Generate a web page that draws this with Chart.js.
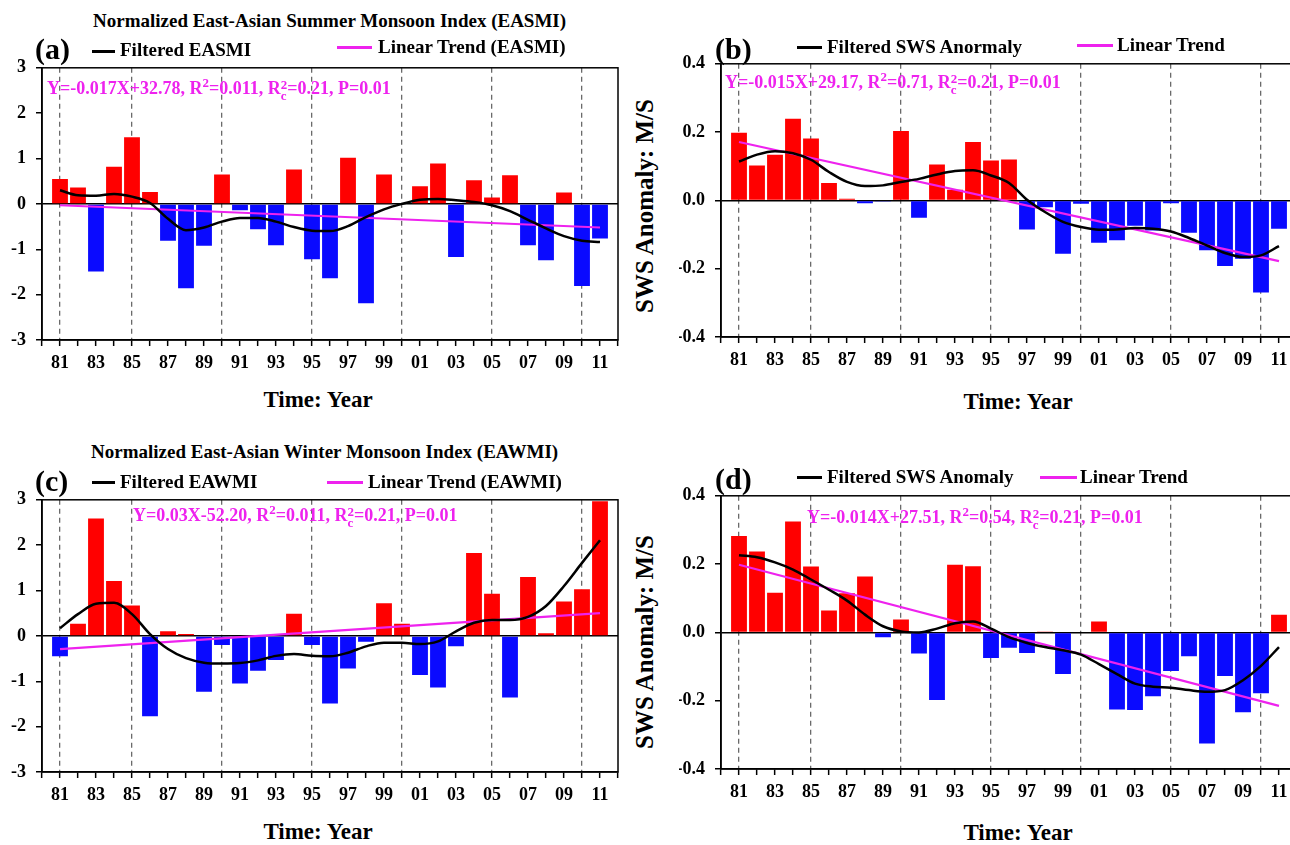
<!DOCTYPE html>
<html>
<head>
<meta charset="utf-8">
<script src="https://cdn.jsdelivr.net/npm/chart.js@4"></script>
<style>
  html, body { margin: 0; padding: 0; background: #fff; }
  body { width: 1290px; height: 845px; overflow: hidden; position: relative;
         font-family: "Liberation Serif", "Times New Roman", serif; font-weight: bold; color: #000; }
  canvas { position: absolute; }
  .t { position: absolute; white-space: nowrap; line-height: 24px; height: 24px; z-index: 2; }
  .title { font-size: 19px; }
  .lab { font-size: 30px; }
  .leg { font-size: 19px; }
  .eq { font-size: 18px; color: #ee22ee; }
  .eq sup { font-size: 0.72em; vertical-align: 0.55em; line-height: 0; }
  .cs { display: inline-block; vertical-align: -0.45em; font-size: 0.72em; line-height: 0.85em; }
  .cs span { display: block; }
  .xt { font-size: 23px; transform: translateX(-50%); }
  .yt { font-size: 25px; transform: translate(-50%, -50%) rotate(-90deg); line-height: 26px; height: 26px; }
  .ln { position: absolute; height: 0; z-index: 2; }
</style>
</head>
<body>

<canvas id="ca" width="630" height="333" style="left:0px;top:47px"></canvas>
<canvas id="cb" width="630" height="334" style="left:679px;top:43px"></canvas>
<canvas id="cc" width="630" height="333" style="left:0px;top:479px"></canvas>
<canvas id="cd" width="630" height="334" style="left:679px;top:475px"></canvas>

<!-- panel a -->
<div class="t title" style="left:93px;top:9px">Normalized East-Asian Summer Monsoon Index (EASMI)</div>
<div class="t lab" style="left:35px;top:37px">(a)</div>
<div class="ln" style="left:92px;top:50px;width:23px;border-top:3px solid #000"></div>
<div class="t leg" style="left:120px;top:38px">Filtered EASMI</div>
<div class="ln" style="left:337px;top:46px;width:35px;border-top:3px solid #ee22ee"></div>
<div class="t leg" style="left:378px;top:35px">Linear Trend (EASMI)</div>
<div class="t eq" style="left:47px;top:76px">Y=-0.017X+32.78, R<sup>2</sup>=0.011, R<span class="cs"><span>2</span><span>c</span></span>=0.21, P=0.01</div>
<div class="t xt" style="left:318px;top:388px">Time: Year</div>

<!-- panel b -->
<div class="t lab" style="left:715px;top:37px">(b)</div>
<div class="ln" style="left:797px;top:46px;width:25px;border-top:3px solid #000"></div>
<div class="t leg" style="left:827px;top:35px">Filtered SWS Anormaly</div>
<div class="ln" style="left:1077px;top:44px;width:36px;border-top:3px solid #ee22ee"></div>
<div class="t leg" style="left:1117px;top:33px">Linear Trend</div>
<div class="t eq" style="left:725px;top:70px">Y=-0.015X+29.17, R<sup>2</sup>=0.71, R<span class="cs"><span>2</span><span>c</span></span>=0.21, P=0.01</div>
<div class="t yt" style="left:645px;top:206px">SWS Anomaly: M/S</div>
<div class="t xt" style="left:1018px;top:390px">Time: Year</div>

<!-- panel c -->
<div class="t title" style="left:91px;top:440px">Normalized East-Asian Winter Monsoon Index (EAWMI)</div>
<div class="t lab" style="left:35px;top:469px">(c)</div>
<div class="ln" style="left:92px;top:481px;width:23px;border-top:3px solid #000"></div>
<div class="t leg" style="left:120px;top:470px">Filtered EAWMI</div>
<div class="ln" style="left:327px;top:481px;width:36px;border-top:3px solid #ee22ee"></div>
<div class="t leg" style="left:368px;top:470px">Linear Trend (EAWMI)</div>
<div class="t eq" style="left:133px;top:503px">Y=0.03X-52.20, R<sup>2</sup>=0.011, R<span class="cs"><span>2</span><span>c</span></span>=0.21, P=0.01</div>
<div class="t xt" style="left:318px;top:820px">Time: Year</div>

<!-- panel d -->
<div class="t lab" style="left:715px;top:467px">(d)</div>
<div class="ln" style="left:797px;top:476px;width:25px;border-top:3px solid #000"></div>
<div class="t leg" style="left:827px;top:465px">Filtered SWS Anomaly</div>
<div class="ln" style="left:1040px;top:476px;width:37px;border-top:3px solid #ee22ee"></div>
<div class="t leg" style="left:1080px;top:465px">Linear Trend</div>
<div class="t eq" style="left:807px;top:505px">Y=-0.014X+27.51, R<sup>2</sup>=0.54, R<span class="cs"><span>2</span><span>c</span></span>=0.21, P=0.01</div>
<div class="t yt" style="left:645px;top:642px">SWS Anomaly: M/S</div>
<div class="t xt" style="left:1018px;top:821px">Time: Year</div>

<script>
const years = [1981, 1982, 1983, 1984, 1985, 1986, 1987, 1988, 1989, 1990,
               1991, 1992, 1993, 1994, 1995, 1996, 1997, 1998, 1999, 2000,
               2001, 2002, 2003, 2004, 2005, 2006, 2007, 2008, 2009, 2010, 2011];
const trendYears = [1981, 2011];
const dashYears = [1981, 1985, 1990, 1995, 2000, 2005, 2010];

// (a) summer monsoon index
const easmi = [0.55, 0.36, -1.49, 0.82, 1.47, 0.26, -0.81, -1.86, -0.92, 0.65,
               -0.14, -0.56, -0.91, 0.76, -1.22, -1.64, 1.02, -2.19, 0.65, 0,
               0.39, 0.89, -1.17, 0.52, 0.14, 0.63, -0.91, -1.24, 0.25, -1.81, -0.76];
const easmiFilt = [0.30, 0.19, 0.18, 0.22, 0.16, 0.02, -0.33, -0.58, -0.52, -0.39,
                   -0.31, -0.31, -0.39, -0.51, -0.59, -0.60, -0.49, -0.29, -0.12, 0.0,
                   0.09, 0.11, 0.08, 0.04, -0.03, -0.16, -0.35, -0.54, -0.71, -0.81, -0.84];
const easmiTrend = [-0.03, -0.52];

// (b) summer SWS anomaly
const swsSummer = [0.198, 0.102, 0.134, 0.239, 0.181, 0.051, 0.005, -0.008, -0.003, 0.203,
                   -0.051, 0.105, 0.031, 0.171, 0.117, 0.120, -0.085, -0.020, -0.156, -0.010,
                   -0.124, -0.117, -0.074, -0.088, -0.008, -0.095, -0.146, -0.192, -0.171, -0.270, -0.083];
const swsSummerFilt = [0.114, 0.134, 0.144, 0.138, 0.119, 0.083, 0.054, 0.042, 0.044, 0.054,
                       0.063, 0.076, 0.086, 0.088, 0.073, 0.051, 0.002, -0.034, -0.063, -0.078,
                       -0.086, -0.085, -0.081, -0.083, -0.091, -0.110, -0.132, -0.154, -0.166, -0.161, -0.134];
const swsSummerTrend = [0.171, -0.178];

// (c) winter monsoon index
const eawmi = [-0.45, 0.27, 2.59, 1.21, 0.67, -1.77, 0.10, 0.04, -1.23, -0.20,
               -1.05, -0.77, -0.53, 0.49, -0.20, -1.49, -0.72, -0.13, 0.72, 0.27,
               -0.86, -1.14, -0.23, 1.83, 0.93, -1.36, 1.30, 0.06, 0.76, 1.03, 2.97];
const eawmiFilt = [0.17, 0.48, 0.71, 0.73, 0.48, 0.04, -0.29, -0.49, -0.59, -0.61,
                   -0.60, -0.54, -0.44, -0.40, -0.44, -0.45, -0.37, -0.23, -0.15, -0.15,
                   -0.18, -0.12, 0.10, 0.29, 0.35, 0.35, 0.42, 0.66, 1.10, 1.61, 2.11];
const eawmiTrend = [-0.29, 0.50];

// (d) winter SWS anomaly
const swsWinter = [0.282, 0.237, 0.116, 0.325, 0.193, 0.064, 0.115, 0.164, -0.014, 0.038,
                   -0.062, -0.198, 0.198, 0.194, -0.075, -0.045, -0.060, 0.003, -0.122, 0,
                   0.032, -0.226, -0.227, -0.187, -0.113, -0.070, -0.325, -0.128, -0.234, -0.178, 0.052];
const swsWinterFilt = [0.226, 0.220, 0.205, 0.184, 0.155, 0.125, 0.093, 0.052, 0.018, 0.003,
                       0.0, 0.011, 0.027, 0.032, 0.011, -0.014, -0.031, -0.043, -0.052, -0.065,
                       -0.093, -0.122, -0.150, -0.159, -0.162, -0.169, -0.174, -0.169, -0.140, -0.098, -0.043];
const swsWinterTrend = [0.198, -0.215];

const serif = '"Liberation Serif", "Times New Roman", serif';
const tickFont = {family: serif, size: 18, weight: 'bold'};
Chart.defaults.font.family = serif;
Chart.defaults.font.weight = 'bold';
Chart.defaults.font.size = 18;
Chart.defaults.color = '#000';

/* box round the plot area */
const frame = {
  id: 'frame',
  afterDraw(chart) {
    const {ctx, chartArea: a} = chart;
    ctx.save();
    ctx.strokeStyle = '#000';
    ctx.lineWidth = 1.5;
    ctx.strokeRect(a.left, a.top, a.right - a.left, a.bottom - a.top);
    ctx.restore();
  }
};

function makeChart(id, vals, filt, trend, yMin, yMax, yStep, decimals) {
  new Chart(document.getElementById(id), {
    type: 'bar',
    data: {
      datasets: [
        {
          type: 'line',
          data: years.map((x, i) => ({x: x, y: filt[i]})),
          borderColor: '#000', borderWidth: 2.5, pointRadius: 0,
          cubicInterpolationMode: 'monotone', order: 1
        },
        {
          type: 'line',
          data: trendYears.map((x, i) => ({x: x, y: trend[i]})),
          borderColor: '#ee22ee', borderWidth: 2.2, pointRadius: 0, order: 2
        },
        {
          data: years.map((x, i) => ({x: x, y: vals[i]})),
          backgroundColor: vals.map(v => v >= 0 ? '#ff0000' : '#0a0aff'),
          barPercentage: 0.88, categoryPercentage: 1, order: 3
        }
      ]
    },
    options: {
      responsive: false,
      animation: false,
      layout: {padding: {top: 20, right: 12, left: 0, bottom: 0}},
      plugins: {legend: {display: false}, tooltip: {enabled: false}},
      scales: {
        x: {
          type: 'linear', min: 1980, max: 2012, offset: false, z: 1,
          afterFit: s => { s.height = 40; },
          ticks: {
            stepSize: 1, autoSkip: false, maxRotation: 0, padding: 7, font: tickFont,
            callback: v => (v % 2 === 1 && v >= 1981 && v <= 2011) ? String(v % 100).padStart(2, '0') : ''
          },
          grid: {
            offset: false,
            color: c => dashYears.includes(c.tick.value) ? '#6a6a6a' : 'rgba(0,0,0,0)',
            lineWidth: 1.3, tickColor: '#000', tickLength: 6, tickWidth: 1.5
          },
          border: {color: '#000', width: 1.5, dash: [5, 4]}
        },
        y: {
          min: yMin, max: yMax, z: 1,
          afterFit: s => { s.width = 42; },
          ticks: {
            stepSize: yStep, padding: 10, font: tickFont,
            callback: v => Math.abs(v) < 1e-9 ? (decimals ? '0.0' : '0') : v.toFixed(decimals)
          },
          grid: {
            color: c => Math.abs(c.tick.value) < 1e-9 ? '#000' : 'rgba(0,0,0,0)',
            lineWidth: 1.5, tickColor: '#000', tickLength: 6, tickWidth: 1.5
          },
          border: {color: '#000', width: 1.5}
        }
      }
    },
    plugins: [frame]
  });
}

makeChart('ca', easmi, easmiFilt, easmiTrend, -3, 3, 1, 0);
makeChart('cb', swsSummer, swsSummerFilt, swsSummerTrend, -0.4, 0.4, 0.2, 1);
makeChart('cc', eawmi, eawmiFilt, eawmiTrend, -3, 3, 1, 0);
makeChart('cd', swsWinter, swsWinterFilt, swsWinterTrend, -0.4, 0.4, 0.2, 1);
</script>
</body>
</html>
